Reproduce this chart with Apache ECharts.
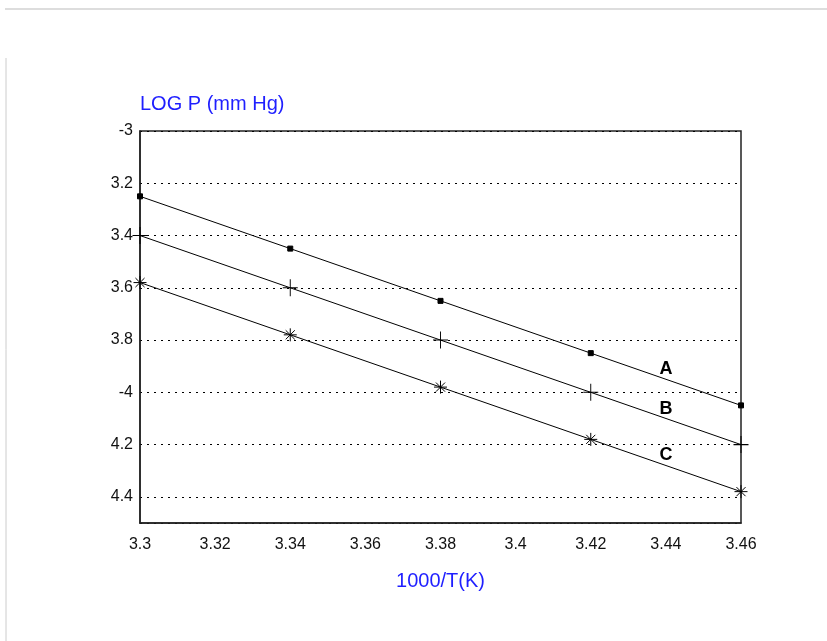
<!DOCTYPE html>
<html>
<head>
<meta charset="utf-8">
<script src="https://cdn.jsdelivr.net/npm/echarts@6/dist/echarts.min.js"></script>
<style>
  html, body { margin: 0; padding: 0; background: #fff; }
  #chart { width: 827px; height: 641px; }
</style>
</head>
<body>
<div id="chart"></div>
<script>
// 1000/T values
var xValues = [3.30, 3.34, 3.38, 3.42, 3.46];
// log P for the three lines
var seriesA = [-3.25, -3.45, -3.65, -3.85, -4.05];
var seriesB = [-3.40, -3.60, -3.80, -4.00, -4.20];
var seriesC = [-3.58, -3.78, -3.98, -4.18, -4.38];
var seriesNames = ['A', 'B', 'C'];
// where the letters sit, in data units
var nameSpots = [[3.440, -3.911], [3.440, -4.064], [3.440, -4.240]];

var chart = echarts.init(document.getElementById('chart'));

var plusPath = 'path://M0,5L10,5M5,0L5,10';
var starPath = 'path://M0,5L10,5M5,0L5,10M1.5,1.5L8.5,8.5M8.5,1.5L1.5,8.5';

function pairs(ys) {
  return xValues.map(function (x, i) { return [x, ys[i]]; });
}

function makeSeries(name, ys, symbol, size, spot) {
  return {
    name: name,
    type: 'line',
    data: pairs(ys),
    symbol: symbol,
    symbolSize: size,
    showAllSymbol: true,
    clip: false,
    lineStyle: { color: '#000', width: 1 },
    itemStyle: { color: '#000', borderColor: '#000', borderWidth: 1 },
    emphasis: { disabled: true },
    markPoint: {
      symbol: 'circle',
      symbolSize: 1,
      silent: true,
      itemStyle: { color: 'rgba(0,0,0,0)', borderWidth: 0 },
      label: {
        show: true,
        position: 'inside',
        formatter: name,
        color: '#000',
        fontWeight: 'bold',
        fontSize: 18,
        fontFamily: 'Liberation Sans'
      },
      data: [{ coord: spot }]
    }
  };
}

var option = {
  backgroundColor: '#fff',
  animation: false,
  textStyle: { fontFamily: 'Liberation Sans' },
  grid: {
    left: 140,
    top: 131,
    width: 601,
    height: 392,
    show: true,
    borderColor: '#222',
    borderWidth: 1.5
  },
  graphic: [
    { type: 'line', shape: { x1: 5, y1: 9, x2: 827, y2: 9 }, style: { stroke: '#bbb', lineWidth: 1 } },
    { type: 'line', shape: { x1: 6, y1: 58, x2: 6, y2: 641 }, style: { stroke: '#ccc', lineWidth: 1 } }
  ],
  xAxis: {
    type: 'value',
    min: 3.3,
    max: 3.46,
    interval: 0.02,
    name: '1000/T(K)',
    nameLocation: 'middle',
    nameGap: 48,
    nameTextStyle: { color: '#1f1fff', fontSize: 20 },
    axisLine: { show: true, lineStyle: { color: '#222', width: 1.5 } },
    axisTick: { show: false },
    splitLine: { show: false },
    axisLabel: {
      color: '#111',
      fontSize: 16,
      margin: 14,
      formatter: function (v) { return String(parseFloat(v.toFixed(2))); }
    }
  },
  yAxis: {
    type: 'value',
    min: -4.5,
    max: -3,
    splitNumber: 7,
    name: 'LOG P (mm Hg)',
    nameLocation: 'end',
    nameGap: 17,
    nameTextStyle: { color: '#1f1fff', fontSize: 20, align: 'left' },
    axisLine: { show: true, lineStyle: { color: '#222', width: 1.5 } },
    axisTick: { show: false },
    splitLine: { show: true, lineStyle: { color: '#000', type: [2, 5], width: 1 } },
    axisLabel: {
      color: '#111',
      fontSize: 16,
      margin: 7,
      showMinLabel: false,
      formatter: function (v) {
        var r = parseFloat(v.toFixed(2));
        if (r <= -4.5) return '';
        // left-clipped labels as they show in the figure
        return Number.isInteger(r) ? String(r) : String(Math.abs(r));
      }
    }
  },
  series: [
    makeSeries(seriesNames[0], seriesA, 'rect', 5, nameSpots[0]),
    makeSeries(seriesNames[1], seriesB, plusPath, [15, 17], nameSpots[1]),
    makeSeries(seriesNames[2], seriesC, starPath, 13, nameSpots[2])
  ]
};

chart.setOption(option);
</script>
</body>
</html>
